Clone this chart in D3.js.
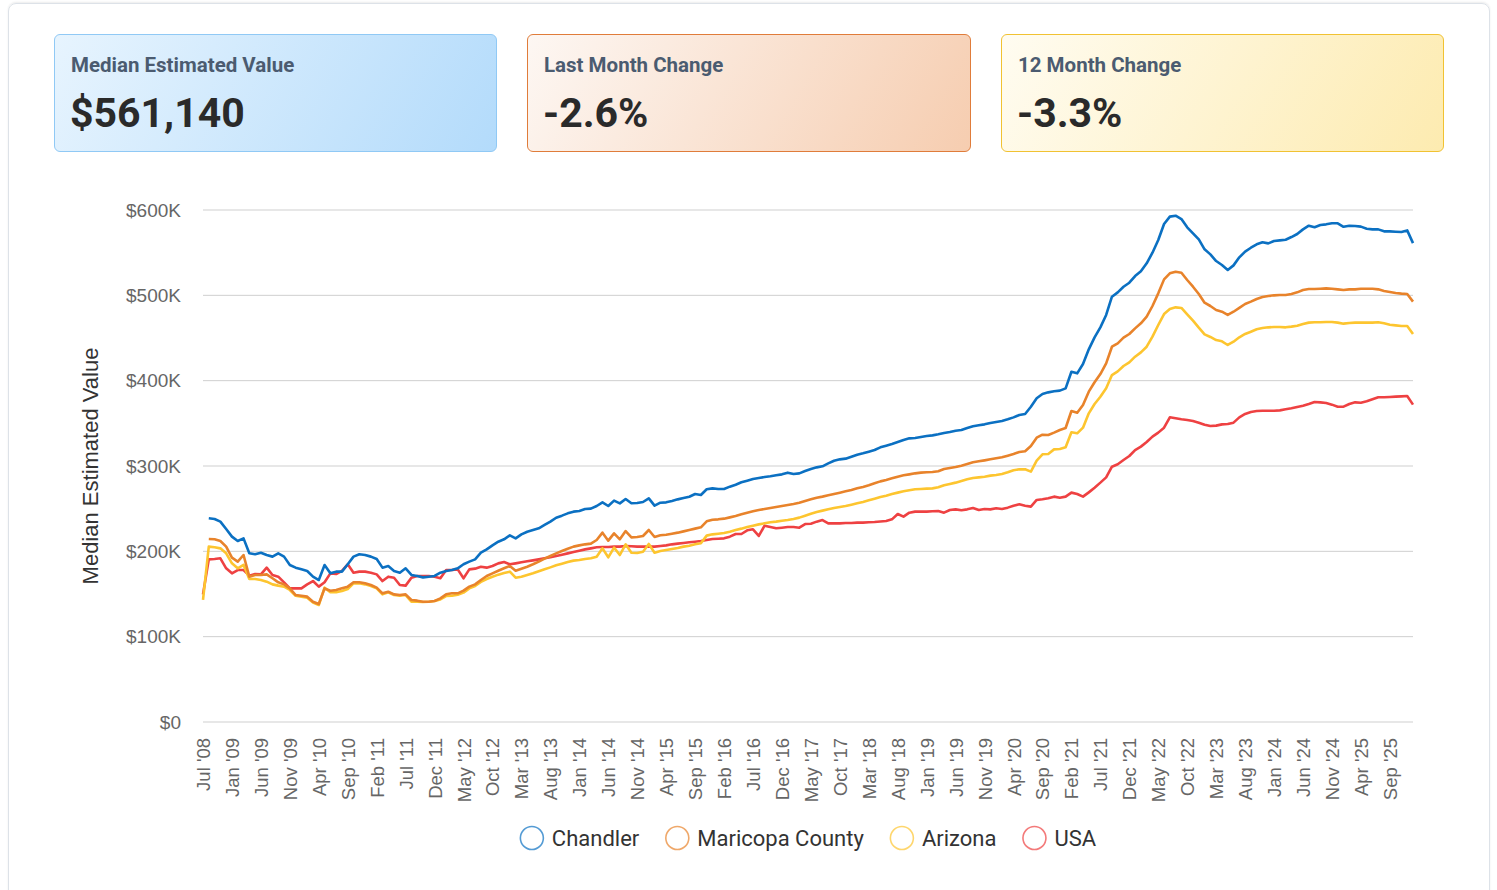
<!DOCTYPE html>
<html lang="en">
<head>
    <meta charset="UTF-8">
    <title>Median Estimated Value - Chandler</title>
    <script src="https://d3js.org/d3.v7.min.js"></script>
    <style>
        body {
            margin: 0;
            background: #fff;
            font-family: Roboto, "Liberation Sans", sans-serif;
        }
        .frame {
            position: absolute;
            left: 8px;
            top: 3px;
            width: 1480px;
            height: 920px;
            border: 1px solid #dde2e8;
            border-radius: 8px;
            box-shadow: 0 -1px 2px rgba(0, 0, 0, 0.08);
        }
        .card {
            position: absolute;
            top: 34px;
            height: 116px;
            border-radius: 6px;
            box-sizing: border-box;
        }
        .card .title {
            position: absolute;
            left: 16px;
            top: 20px;
            font-size: 20.5px;
            line-height: 21px;
            font-weight: 700;
            color: #4b5b70;
        }
        .card .value {
            position: absolute;
            left: 15px;
            top: 58px;
            font-size: 41px;
            line-height: 41px;
            font-weight: 700;
            color: #2a2a2a;
        }
        #chart {
            position: absolute;
            left: 0;
            top: 0;
        }
    </style>
</head>
<body>
<div class="frame"></div>
<div class="card" style="left:54px;width:443px;height:118px;background:linear-gradient(120deg,#e7f4fe,#b3dbfb);border:1px solid #90c9f5;">
    <div class="title">Median Estimated Value</div>
    <div class="value" id="v-median"></div>
</div>
<div class="card" style="left:527px;width:444px;height:118px;background:linear-gradient(120deg,#fdf7f3,#f6cdb0);border:1px solid #e07c3a;">
    <div class="title">Last Month Change</div>
    <div class="value" id="v-month"></div>
</div>
<div class="card" style="left:1001px;width:443px;height:118px;background:linear-gradient(120deg,#fffcf1,#fdebb0);border:1px solid #f1c232;">
    <div class="title">12 Month Change</div>
    <div class="value" id="v-year"></div>
</div>
<div id="chart"></div>
<script>

    // month labels: first point is Jul '08, then Sep '08 onwards every month
    var startLabels = ["Jul '08", "Sep '08", "Oct '08", "Nov '08", "Dec '08"];
    var fmtMonth = d3.timeFormat("%b '%y");
    var months = startLabels.concat(
        d3.timeMonth.range(new Date(2009, 0, 1), new Date(2026, 1, 1)).map(fmtMonth));

    // values in $K
    var chandler = [null,
        238.7, 237.9, 234.8, 226.2, 217.2, 212.1, 215.2, 197.7, 196.5, 198.4, 195.7, 193.8, 197.7, 193.8, 184.0, 180.9, 178.9, 177.0, 170.3, 166.4,
        184.0, 174.2, 176.2, 176.2, 184.8, 193.8, 196.5, 195.7, 193.8, 191.0, 180.9, 182.8, 177.0, 175.0, 180.1, 172.3,
        171.1, 169.5, 170.3, 171.1, 175.0, 177.0, 178.1, 180.1, 184.8, 187.9, 190.6, 198.4, 202.3, 207.0, 211.3, 214.1, 218.7, 215.2,
        219.9, 223.0, 225.0, 227.0, 230.9, 234.8, 239.4, 241.8, 244.5, 246.5, 247.3, 249.6, 250.0, 253.1, 257.4, 253.1, 259.4, 256.2,
        261.3, 256.3, 256.6, 257.8, 262.1, 253.5, 257.0, 257.4, 259.0, 260.9, 262.5, 264.0, 267.2, 266.0, 272.7, 273.8, 273.1, 273.1, 275.8,
        278.1, 280.9, 282.8, 284.8, 285.9, 287.1, 287.9, 289.1, 290.2, 292.2, 290.6, 291.4, 294.1, 296.5, 298.4, 299.6, 303.1, 306.2, 307.8,
        308.6, 310.9, 313.3, 314.9, 316.8, 318.8, 321.9, 323.8, 325.8, 328.1, 330.5, 332.4, 332.8, 334.0, 335.2, 335.9, 337.1, 338.7, 339.8,
        341.4, 342.2, 344.5, 346.5, 347.7, 348.8, 350.4, 351.6, 352.7, 354.7, 357.0, 359.8, 360.9, 369.5, 379.3, 384.4, 386.3, 387.5,
        388.3, 391.0, 410.5, 408.6, 419.5, 436.7, 450.8, 462.5, 477.0, 498.4, 503.5, 510.1, 514.8, 522.6, 528.1, 537.5, 550.0, 564.8, 583.6,
        592.2, 593.3, 589.4, 579.7, 572.6, 565.6, 553.9, 548.0, 540.2, 535.5, 529.7, 535.1,
        544.5, 551.2, 555.8, 559.8, 562.1, 560.9, 563.7, 564.4, 565.2, 568.3, 571.9, 577.3, 581.6, 579.7, 582.4, 583.2, 584.4, 584.4,
        580.3, 581.6, 581.2, 580.5, 578.1, 577.3, 577.3, 575.0, 575.0, 574.6, 574.2, 576.1, 561.14];

    var maricopa = [null,
        214.5, 214.1, 212.1, 205.5, 192.6, 187.9, 195.7, 170.3, 172.3, 172.3, 173.0, 168.4, 163.7, 161.3, 156.6, 148.8, 148.0, 146.9, 141.0, 138.3,
        156.6, 153.9, 154.7, 156.6, 158.6, 163.7, 163.7, 162.5, 160.6, 157.4, 150.8, 152.7, 149.6, 148.8, 149.6, 143.0,
        142.2, 141.0, 141.0, 141.8, 144.9, 149.6, 150.8, 150.8, 153.9, 158.6, 161.3, 166.4, 171.1, 174.2, 177.3, 180.1, 182.8, 177.3,
        179.7, 182.0, 184.8, 187.9, 191.4, 194.5, 197.6, 200.4, 203.1, 205.5, 207.0, 208.2, 209.0, 213.3, 221.9, 212.5, 221.1, 214.1,
        223.8, 216.4, 216.8, 218.0, 225.0, 216.8, 218.8, 219.5, 220.7, 221.9, 223.4, 225.0, 226.6, 228.1, 235.2, 237.1, 237.5, 238.3, 239.8,
        241.4, 243.4, 245.3, 246.9, 248.4, 249.6, 250.8, 252.0, 253.1, 254.3, 255.5, 257.0, 259.0, 260.9, 262.9, 264.1, 265.6, 267.2, 268.7,
        270.3, 271.9, 273.8, 275.4, 277.4, 279.7, 282.0, 283.6, 285.5, 287.5, 289.1, 290.2, 291.4, 292.2, 292.6, 293.0, 293.8, 296.5, 297.7,
        298.8, 300.4, 302.3, 304.3, 305.5, 306.6, 307.8, 309.0, 310.2, 312.1, 314.1, 316.4, 317.2, 323.4, 333.2, 336.7, 336.3, 339.1,
        342.2, 344.5, 364.5, 362.5, 371.5, 387.1, 398.1, 407.8, 420.3, 439.8, 443.7, 450.4, 454.7, 461.3, 467.2, 475.0, 487.5, 502.3, 518.7,
        525.8, 527.7, 526.5, 518.0, 510.1, 501.6, 491.4, 487.5, 482.8, 480.8, 477.0, 480.8,
        485.2, 489.8, 492.6, 495.7, 498.1, 499.2, 500.0, 500.4, 500.4, 501.6, 503.5, 506.2, 507.4, 507.4, 507.8, 508.2, 507.8, 507.0,
        506.2, 507.0, 507.0, 507.8, 507.8, 507.8, 507.0, 505.1, 503.9, 502.7, 502.0, 501.6, 492.6];

    var arizona = [143.0,
        205.5, 204.7, 203.5, 197.7, 186.0, 180.1, 184.0, 167.6, 167.6, 166.4, 164.5, 161.3, 159.8, 158.6, 154.7, 148.0, 146.9, 145.7, 139.9, 137.1,
        157.4, 152.0, 152.0, 153.5, 155.9, 162.5, 162.5, 161.3, 159.4, 156.6, 149.6, 152.0, 148.8, 148.0, 148.8, 141.0,
        141.0, 140.6, 141.0, 141.8, 143.7, 147.6, 148.0, 149.2, 151.6, 156.6, 159.4, 164.1, 167.6, 170.3, 172.7, 174.6, 176.2, 169.1,
        170.3, 172.3, 174.2, 176.6, 178.9, 181.2, 183.6, 185.5, 187.5, 189.1, 189.8, 191.0, 191.8, 193.7, 203.5, 193.0, 204.3, 195.7,
        208.2, 198.4, 198.0, 199.6, 208.6, 198.4, 200.4, 201.6, 202.7, 203.9, 205.5, 206.6, 208.2, 209.4, 218.4, 219.9, 220.7, 221.5, 223.0,
        225.0, 226.6, 228.5, 230.1, 231.6, 232.8, 234.0, 234.8, 235.9, 236.7, 237.9, 239.5, 241.8, 244.1, 246.1, 247.7, 249.2, 250.8, 252.0,
        253.1, 254.7, 256.3, 257.8, 259.8, 261.7, 263.7, 265.2, 267.2, 268.8, 270.3, 271.5, 272.7, 273.1, 273.5, 273.8, 275.0, 277.4, 278.9,
        280.5, 282.4, 284.4, 286.0, 286.7, 287.5, 288.7, 289.5, 290.6, 292.6, 295.0, 296.1, 296.1, 293.4, 306.3, 313.7, 314.1, 319.5,
        319.9, 321.9, 339.5, 338.3, 344.9, 361.7, 372.7, 381.2, 391.0, 406.6, 410.9, 417.2, 421.5, 428.1, 433.2, 439.8, 451.6, 465.2, 478.1,
        484.0, 485.9, 485.2, 477.7, 470.3, 462.1, 454.3, 451.2, 447.6, 446.1, 441.8, 445.7,
        450.8, 454.7, 457.4, 460.2, 461.7, 462.5, 462.9, 462.9, 462.5, 463.3, 464.4, 466.4, 468.0, 468.4, 468.4, 468.7, 468.7, 468.0,
        466.8, 467.6, 468.0, 468.0, 468.0, 468.0, 468.4, 467.2, 465.6, 464.8, 464.1, 464.1, 454.7];

    var usa = [149.6,
        190.6, 191.0, 191.8, 180.1, 174.2, 178.1, 178.1, 171.5, 173.4, 173.0, 180.9, 172.3, 170.3, 163.7, 156.6, 156.6, 156.6, 161.3, 165.2, 158.6,
        163.7, 174.2, 173.4, 177.0, 184.8, 175.0, 176.2, 176.2, 175.0, 173.0, 165.2, 170.3, 169.1, 160.6, 159.8, 169.1,
        171.1, 171.1, 171.1, 170.3, 168.4, 178.1, 178.1, 178.9, 168.4, 178.9, 179.7, 182.0, 180.9, 182.8, 185.9, 187.5, 184.8, 185.9,
        187.1, 188.3, 189.4, 190.6, 191.8, 193.0, 194.5, 196.1, 197.6, 199.2, 200.8, 202.3, 203.5, 204.7, 205.1, 205.1, 205.5, 205.5,
        206.3, 205.9, 205.5, 205.5, 205.5, 205.5, 206.3, 207.0, 208.2, 209.0, 209.8, 210.6, 211.3, 212.1, 213.3, 214.5, 214.8, 215.2, 217.2,
        220.3, 220.3, 224.6, 225.8, 218.0, 230.1, 228.5, 227.0, 227.7, 228.5, 228.5, 227.7, 232.0, 232.4, 234.8, 236.7, 232.8, 232.8, 232.8,
        233.2, 233.2, 233.6, 233.6, 234.0, 234.4, 235.0, 235.5, 237.5, 243.8, 240.6, 245.3, 246.5, 246.5, 246.5, 246.9, 247.3, 245.3, 248.4,
        249.2, 248.1, 249.2, 250.8, 248.4, 249.6, 249.2, 250.4, 249.6, 251.2, 253.5, 255.1, 253.5, 252.4, 260.2, 261.0, 262.1, 264.1,
        262.9, 264.1, 268.8, 267.2, 264.1, 269.1, 274.6, 280.5, 286.7, 299.2, 302.0, 307.0, 311.7, 318.7, 322.7, 328.1, 334.4, 339.1, 344.9,
        357.1, 355.9, 354.7, 353.9, 352.7, 350.8, 348.4, 346.9, 347.3, 348.8, 349.2, 350.8,
        357.0, 361.0, 363.3, 364.4, 364.8, 364.8, 364.8, 365.2, 366.4, 367.6, 369.1, 370.7, 372.7, 375.0, 374.6, 373.8, 371.9, 369.5,
        369.5, 372.7, 374.6, 374.2, 375.8, 378.1, 380.5, 380.5, 380.9, 381.3, 381.6, 382.0, 371.9];

    var seriesNames = ["Chandler", "Maricopa County", "Arizona", "USA"];
    var seriesColors = ["#0b70c2", "#e8832b", "#fdc52f", "#ee4142"];
    var seriesValues = [chandler, maricopa, arizona, usa];
    var yTicks = [0, 100000, 200000, 300000, 400000, 500000, 600000];

    // cards
    var last = chandler[chandler.length - 1] * 1000;
    var prev = chandler[chandler.length - 2] * 1000;
    var yearAgo = chandler[chandler.length - 13] * 1000;
    d3.select("#v-median").text("$" + d3.format(",")(Math.round(last)));
    d3.select("#v-month").text(((last / prev - 1) * 100).toFixed(1) + "%");
    d3.select("#v-year").text(((last / yearAgo - 1) * 100).toFixed(1) + "%");

    // set the dimensions and margins of the graph
    var margin = {top: 210, right: 84, bottom: 168, left: 203},
        width = 1497 - margin.left - margin.right,
        height = 890 - margin.top - margin.bottom;

    var svg = d3.select("#chart")
        .append("svg")
        .attr("width", 1497)
        .attr("height", 890)
        .append("g")
        .attr("transform", "translate(" + margin.left + "," + margin.top + ")");

    var x = d3.scalePoint()
        .domain(months)
        .range([0, width]);

    var y = d3.scaleLinear()
        .domain([0, 600000])
        .range([height, 0]);

    // grid lines
    svg.append("g")
        .selectAll("line")
        .data(yTicks)
        .enter()
        .append("line")
        .attr("x1", 0)
        .attr("x2", width)
        .attr("y1", function (d) { return y(d); })
        .attr("y2", function (d) { return y(d); })
        .attr("stroke", "#cfcfcf")
        .attr("stroke-width", 1);

    // Y axis
    var yAxis = svg.append("g")
        .call(d3.axisLeft(y)
            .tickValues(yTicks)
            .tickSize(0)
            .tickPadding(22)
            .tickFormat(function (d) { return d === 0 ? "$0" : "$" + d / 1000 + "K"; }));
    yAxis.select(".domain").remove();
    yAxis.selectAll("text")
        .attr("fill", "#666")
        .style("font-family", "'Liberation Sans', Arial, sans-serif")
        .style("font-size", "19px");

    // X axis, every 5th label
    var xAxis = svg.append("g")
        .attr("transform", "translate(0," + height + ")")
        .call(d3.axisBottom(x)
            .tickValues(months.filter(function (d, i) { return i % 5 === 0; }))
            .tickSize(0)
            .tickPadding(0));
    xAxis.select(".domain").remove();
    xAxis.selectAll("text")
        .attr("fill", "#666")
        .attr("text-anchor", "end")
        .attr("dy", "0.35em")
        .attr("y", 0)
        .attr("transform", "translate(0,16) rotate(-90)")
        .style("font-family", "'Liberation Sans', Arial, sans-serif")
        .style("font-size", "18.5px");

    // axis title
    svg.append("text")
        .attr("transform", "translate(" + (90 - margin.left) + "," + (height / 2) + ") rotate(-90)")
        .attr("text-anchor", "middle")
        .attr("dy", "0.35em")
        .attr("fill", "#333")
        .style("font-family", "'Liberation Sans', Arial, sans-serif")
        .style("font-size", "22px")
        .text("Median Estimated Value");

    // lines, first series drawn last so it sits on top
    var line = d3.line()
        .defined(function (d) { return d !== null; })
        .x(function (d, i) { return x(months[i]); })
        .y(function (d) { return y(d * 1000); });

    for (var s = seriesValues.length - 1; s >= 0; s--) {
        svg.append("path")
            .datum(seriesValues[s])
            .attr("fill", "none")
            .attr("stroke", seriesColors[s])
            .attr("stroke-width", 2.6)
            .attr("stroke-linejoin", "round")
            .attr("d", line);
    }

    // legend
    var legend = svg.append("g")
        .attr("transform", "translate(0," + (838 - margin.top) + ")");
    var items = legend.selectAll("g")
        .data(seriesNames)
        .enter()
        .append("g");
    items.append("circle")
        .attr("r", 11.5)
        .attr("fill", "none")
        .attr("stroke", function (d, i) { return seriesColors[i]; })
        .attr("stroke-opacity", 0.7)
        .attr("stroke-width", 1.6);
    items.append("text")
        .attr("x", 20)
        .attr("dy", "0.35em")
        .attr("fill", "#333")
        .style("font-family", "Roboto, sans-serif")
        .style("font-size", "22px")
        .text(function (d) { return d; });

    var pos = 0, offsets = [];
    items.each(function () {
        offsets.push(pos);
        pos += 12 + 20 + d3.select(this).select("text").node().getComputedTextLength() + 26;
    });
    var total = pos - 26;
    var startX = width / 2 - total / 2 + 12;
    items.attr("transform", function (d, i) { return "translate(" + (startX + offsets[i]) + ",0)"; });

</script>
</body>
</html>
